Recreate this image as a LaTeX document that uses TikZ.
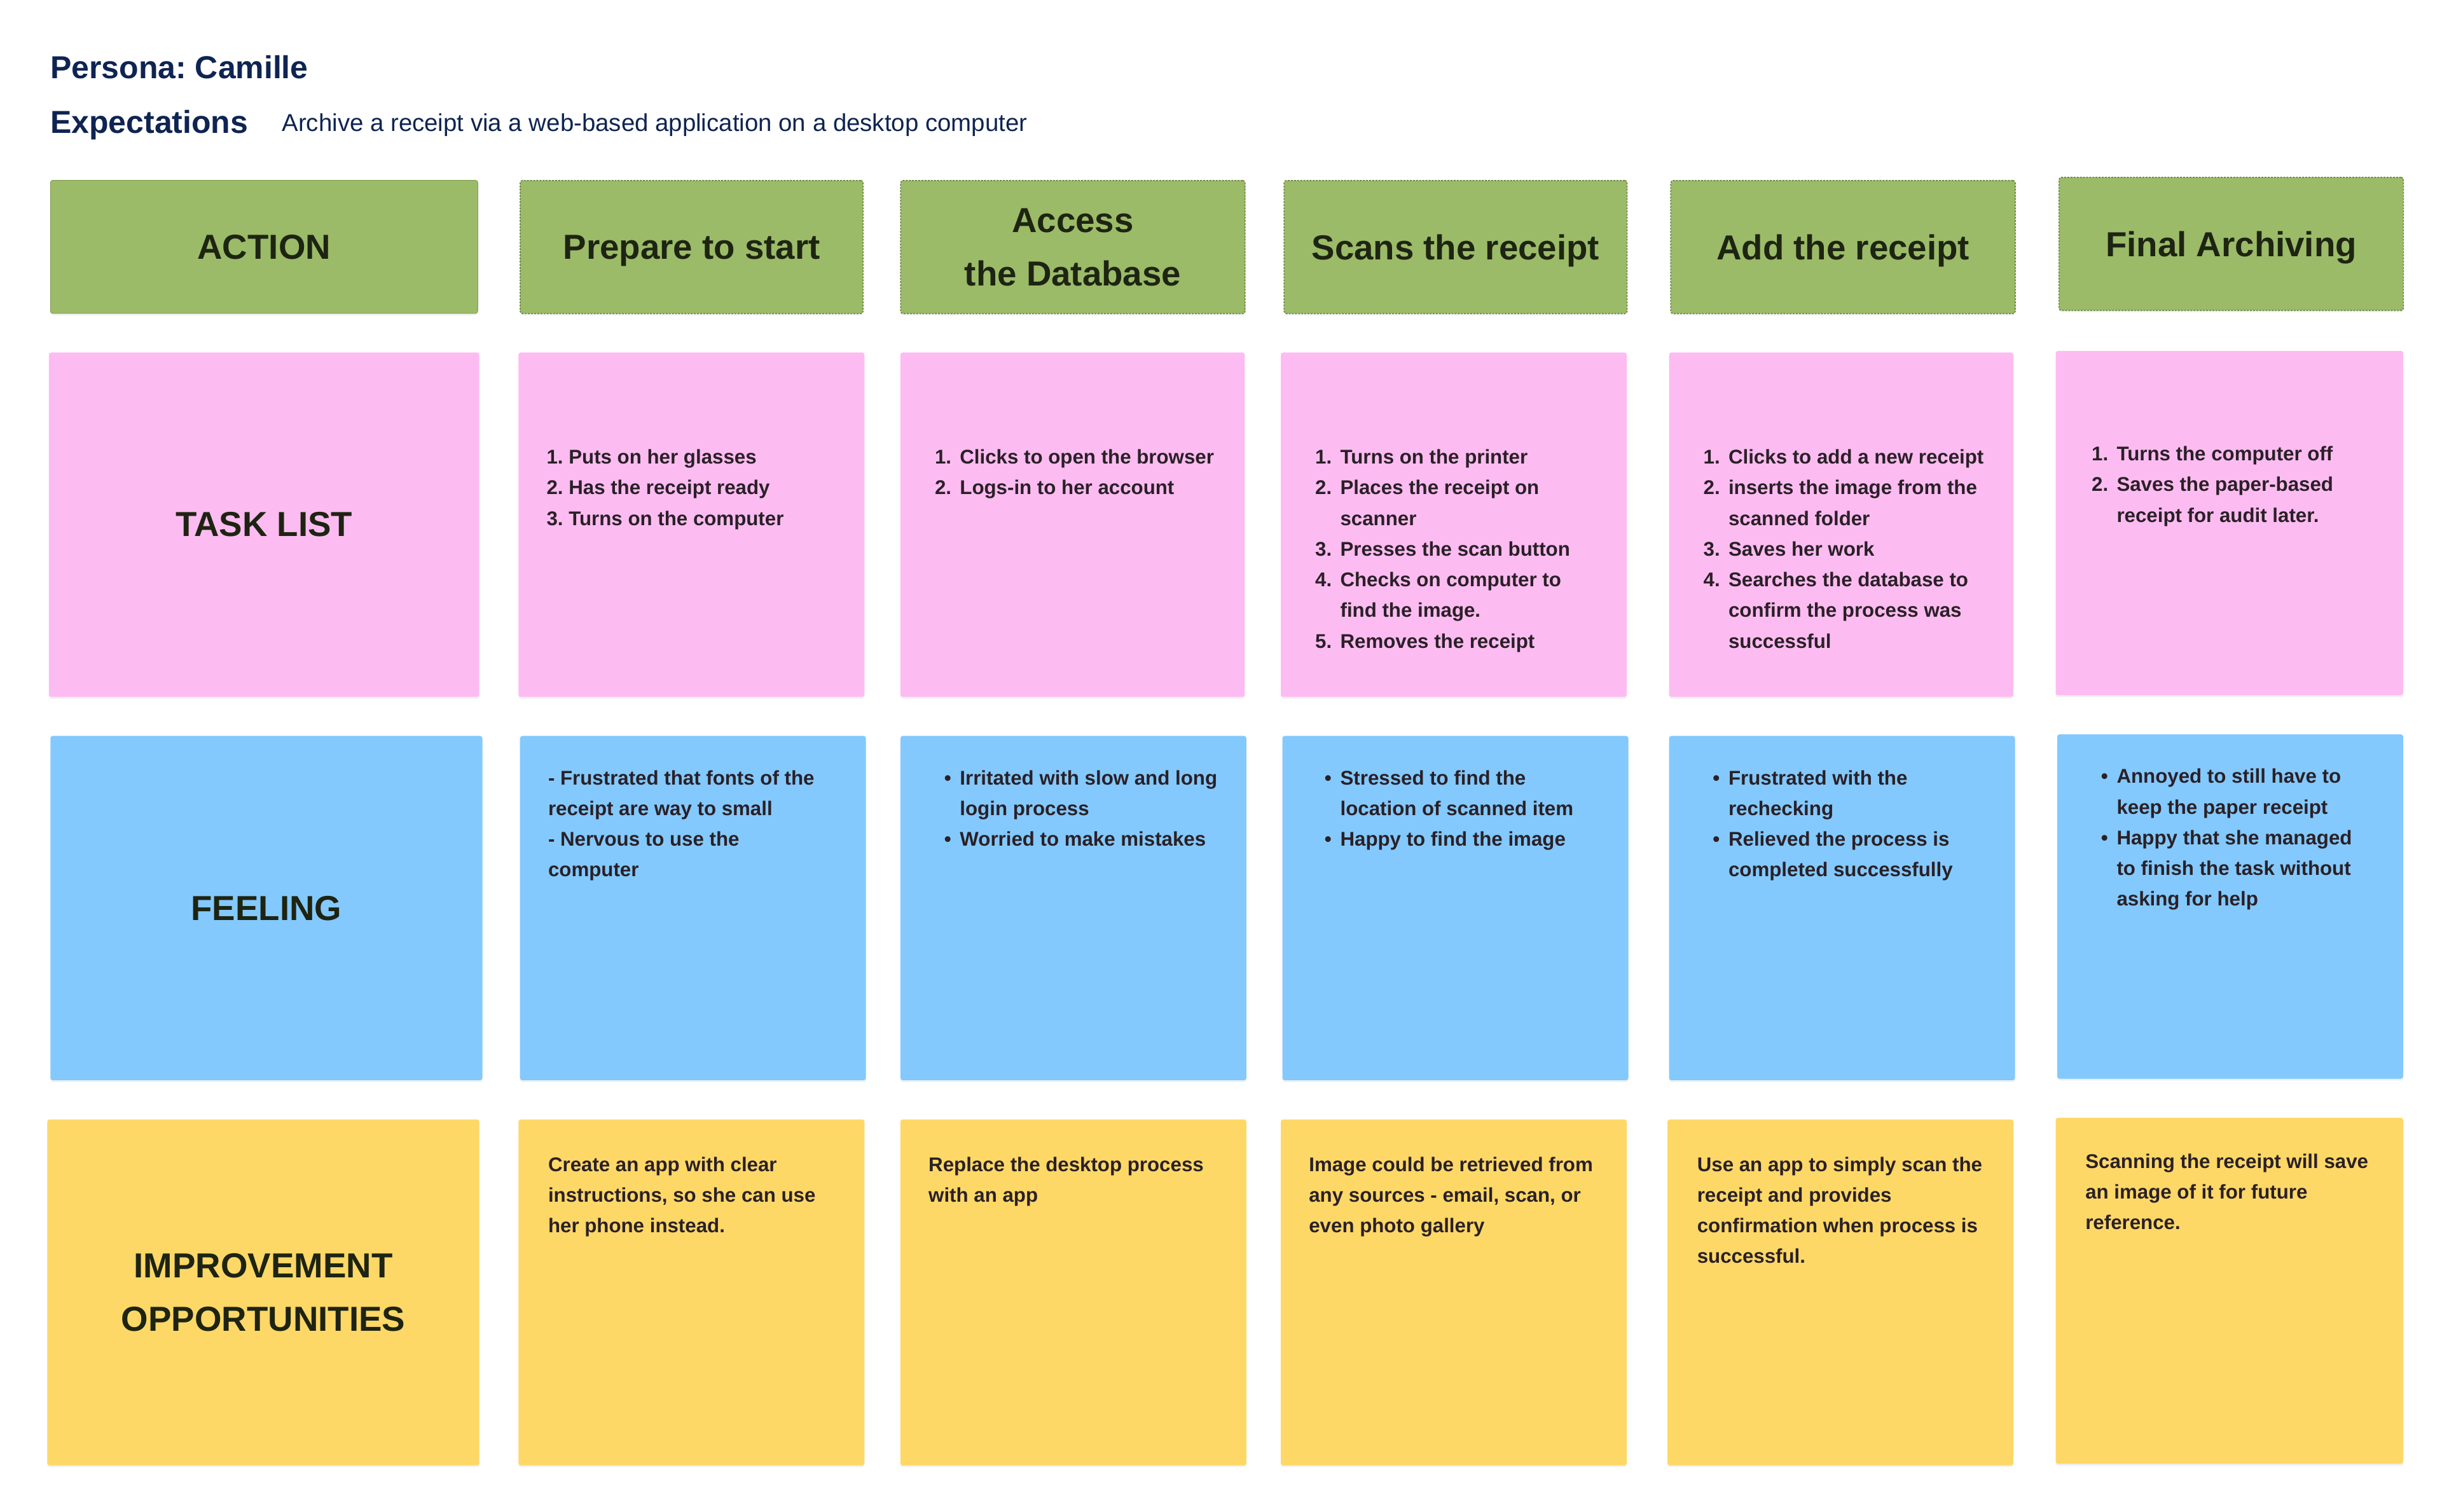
\documentclass[tikz,border=0pt]{standalone}
\usepackage{fontspec}
\setmainfont{Liberation Sans}
\usetikzlibrary{shadows}
\frenchspacing
\definecolor{navy}{HTML}{0E2452}
\definecolor{headink}{HTML}{1E2412}
\definecolor{ink}{HTML}{2A2027}
\definecolor{actiongreen}{HTML}{9BBB68}
\definecolor{actionedge}{HTML}{6F8B46}
\definecolor{taskpink}{HTML}{FDBCF1}
\definecolor{feelblue}{HTML}{83C9FD}
\definecolor{ideayellow}{HTML}{FDD867}
\newcommand{\headfont}{\fontsize{22.2}{34}\selectfont\bfseries}
\newcommand{\bodyfont}{\fontsize{12.7}{19.6}\selectfont\bfseries}
\newcommand{\itemno}[1]{\makebox[16pt][l]{#1}}
\newcommand{\bulletmark}{\makebox[10pt][l]{\textbullet}}
\newcommand{\bulletgap}{\makebox[10pt]{}}
\tikzset{
  cell/.style={rectangle, rounded corners=1.5pt, inner sep=0pt, anchor=north west,
    drop shadow={shadow xshift=0pt, shadow yshift=-1.2pt, opacity=0.12}},
  headbox/.style={cell, fill=actiongreen, minimum height=85pt, font=\headfont,
    text=headink, align=center, text depth=0pt},
  stepbox/.style={headbox, draw=actionedge, dash pattern=on 1.2pt off 0.8pt, line width=0.7pt},
  taskbox/.style={cell, fill=taskpink, minimum height=220pt, font=\headfont, text=headink, align=center},
  feelbox/.style={cell, fill=feelblue, minimum height=220pt, font=\headfont, text=headink, align=center},
  ideabox/.style={cell, fill=ideayellow, minimum height=221pt, font=\headfont, text=headink, align=center},
  celltext/.style={anchor=north west, inner sep=0pt, align=left, font=\bodyfont, text=ink}
}
\begin{document}
\begin{tikzpicture}[x=1pt, y=-1pt]
\useasboundingbox (0,0) rectangle (1560,966);
% title
\node[anchor=base west, inner sep=0pt, font=\fontsize{20.3}{24}\selectfont\bfseries, text=navy] (persona) at (32,50) {Persona: Camille};
\node[anchor=base west, inner sep=0pt, font=\fontsize{20.3}{24}\selectfont\bfseries, text=navy] (expect) at (32,85) {Expectations};
\node[anchor=base west, inner sep=0pt, font=\fontsize{15.6}{18}\selectfont, text=navy] (goal) at (180,84) {Archive a receipt via a web-based application on a desktop computer};
% action row
\node[headbox, draw=actiongreen!85!black, line width=0.4pt, minimum width=273pt] (action) at (32,115) {ACTION};
\node[stepbox, minimum width=219pt] (prep) at (332,115) {Prepare to start};
\node[stepbox, minimum width=220pt] (access) at (575,115) {Access\\the Database};
\node[stepbox, minimum width=219pt] (scan) at (820,115) {Scans the receipt};
\node[stepbox, minimum width=220pt] (add) at (1067,115) {Add the receipt};
\node[stepbox, minimum width=220pt] (final) at (1315,113) {Final Archiving};
% task list row
\node[taskbox, minimum width=275pt] (tasks) at (31,225) {TASK LIST};
\node[taskbox, minimum width=221pt] (task1) at (331,225) {};
\node[taskbox, minimum width=220pt] (task2) at (575,225) {};
\node[taskbox, minimum width=221pt] (task3) at (818,225) {};
\node[taskbox, minimum width=220pt] (task4) at (1066,225) {};
\node[taskbox, minimum width=222pt] (task5) at (1313,224) {};
\node[celltext] (tasktext1) at (349,287) {1. Puts on her glasses\\2. Has the receipt ready\\3. Turns on the computer};
\node[celltext] (tasktext2) at (597,287) {\itemno{1.}Clicks to open the browser\\\itemno{2.}Logs-in to her account};
\node[celltext] (tasktext3) at (840,287) {\itemno{1.}Turns on the printer\\\itemno{2.}Places the receipt on\\\itemno{}scanner\\\itemno{3.}Presses the scan button\\\itemno{4.}Checks on computer to\\\itemno{}find the image.\\\itemno{5.}Removes the receipt};
\node[celltext] (tasktext4) at (1088,287) {\itemno{1.}Clicks to add a new receipt\\\itemno{2.}inserts the image from the\\\itemno{}scanned folder\\\itemno{3.}Saves her work\\\itemno{4.}Searches the database to\\\itemno{}confirm the process was\\\itemno{}successful};
\node[celltext] (tasktext5) at (1336,285) {\itemno{1.}Turns the computer off\\\itemno{2.}Saves the paper-based\\\itemno{}receipt for audit later.};
% feeling row
\node[feelbox, minimum width=276pt] (feel) at (32,470) {FEELING};
\node[feelbox, minimum width=221pt] (feel1) at (332,470) {};
\node[feelbox, minimum width=221pt] (feel2) at (575,470) {};
\node[feelbox, minimum width=221pt] (feel3) at (819,470) {};
\node[feelbox, minimum width=221pt] (feel4) at (1066,470) {};
\node[feelbox, minimum width=221pt] (feel5) at (1314,469) {};
\node[celltext] (feeltext1) at (350,492) {- Frustrated that fonts of the\\receipt are way to small\\- Nervous to use the\\computer};
\node[celltext] (feeltext2) at (603,492) {\bulletmark Irritated with slow and long\\\bulletgap login process\\\bulletmark Worried to make mistakes};
\node[celltext] (feeltext3) at (846,492) {\bulletmark Stressed to find the\\\bulletgap location of scanned item\\\bulletmark Happy to find the image};
\node[celltext] (feeltext4) at (1094,492) {\bulletmark Frustrated with the\\\bulletgap rechecking\\\bulletmark Relieved the process is\\\bulletgap completed successfully};
\node[celltext] (feeltext5) at (1342,491) {\bulletmark Annoyed to still have to\\\bulletgap keep the paper receipt\\\bulletmark Happy that she managed\\\bulletgap to finish the task without\\\bulletgap asking for help};
% improvement row
\node[ideabox, minimum width=276pt] (ideas) at (30,715) {IMPROVEMENT\\OPPORTUNITIES};
\node[ideabox, minimum width=221pt] (idea1) at (331,715) {};
\node[ideabox, minimum width=221pt] (idea2) at (575,715) {};
\node[ideabox, minimum width=221pt] (idea3) at (818,715) {};
\node[ideabox, minimum width=221pt] (idea4) at (1065,715) {};
\node[ideabox, minimum width=222pt] (idea5) at (1313,714) {};
\node[celltext] (ideatext1) at (350,739) {Create an app with clear\\instructions, so she can use\\her phone instead.};
\node[celltext] (ideatext2) at (593,739) {Replace the desktop process\\with an app};
\node[celltext] (ideatext3) at (836,739) {Image could be retrieved from\\any sources - email, scan, or\\even photo gallery};
\node[celltext] (ideatext4) at (1084,739) {Use an app to simply scan the\\receipt and provides\\confirmation when process is\\successful.};
\node[celltext] (ideatext5) at (1332,737) {Scanning the receipt will save\\an image of it for future\\reference.};
\end{tikzpicture}
\end{document}
